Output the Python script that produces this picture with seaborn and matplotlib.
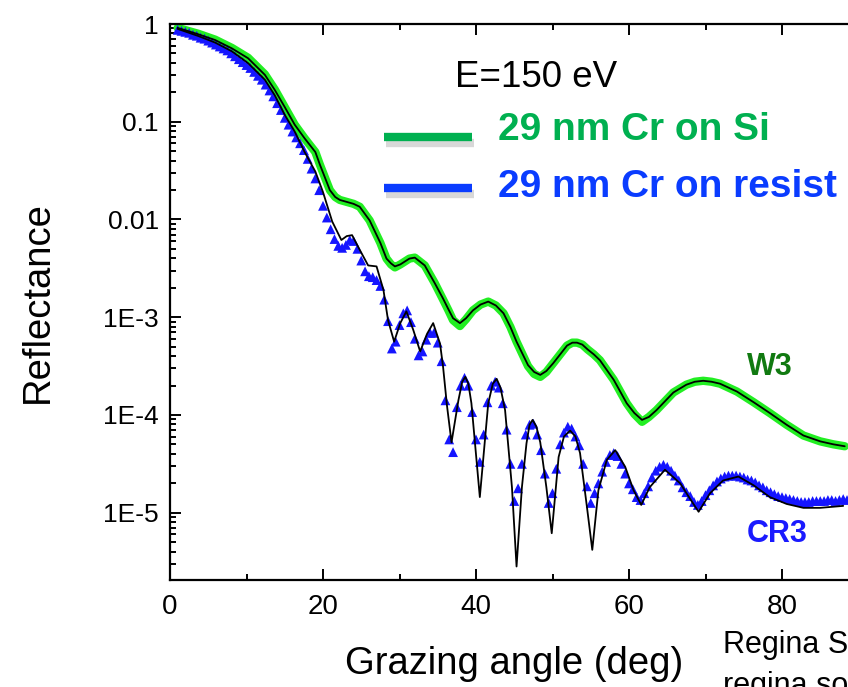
import numpy as np
import pandas as pd
import matplotlib
matplotlib.use("Agg")
import matplotlib.pyplot as plt
import matplotlib.patheffects as pe
from matplotlib.lines import Line2D
from matplotlib.ticker import LogLocator, NullFormatter
import seaborn as sns

# **Data** (reflectance stored as log10 values)

# W3: 29 nm Cr on Si, measured (green) and fit (black)
w3_angle = [1.0, 3.7, 5.9, 8.1, 10.2, 12.4, 13.7, 15.0, 16.3, 17.6,
            19.0, 19.6, 20.3, 20.9, 21.6, 22.2, 23.1, 24.0, 24.8, 26.1,
            27.5, 28.3, 28.9, 29.4, 30.1, 30.7, 31.3, 32.0, 33.3, 34.6,
            35.7, 36.4, 37.0, 37.9, 38.7, 39.6, 40.6, 41.6, 42.6, 43.6,
            44.5, 45.3, 46.8, 47.6, 48.4, 49.2, 50.1, 51.9, 52.6, 53.2,
            53.9, 54.6, 55.4, 56.2, 58.0, 59.7, 60.7, 61.7, 62.6, 63.6,
            64.7, 65.8, 67.5, 68.6, 69.7, 70.8, 71.9, 74.1, 76.3, 78.4,
            80.6, 82.8, 85.0, 86.7, 88.2]
w3_fit = [-0.04, -0.105, -0.164, -0.25, -0.35, -0.52, -0.675, -0.85, -1.03, -1.17,
          -1.31, -1.44, -1.58, -1.70, -1.77, -1.80, -1.82, -1.84, -1.87, -2.01,
          -2.24, -2.40, -2.45, -2.48, -2.46, -2.43, -2.40, -2.39, -2.47, -2.65,
          -2.81, -2.92, -3.01, -3.06, -3.01, -2.93, -2.87, -2.84, -2.88, -2.96,
          -3.10, -3.25, -3.49, -3.56, -3.59, -3.55, -3.47, -3.29, -3.26, -3.26,
          -3.28, -3.33, -3.38, -3.44, -3.64, -3.88, -3.98, -4.05, -4.02, -3.95,
          -3.86, -3.77, -3.69, -3.66, -3.65, -3.66, -3.68, -3.76, -3.87, -3.98,
          -4.10, -4.21, -4.27, -4.30, -4.32]
w3_data = [-0.04, -0.10, -0.16, -0.245, -0.345, -0.515, -0.67, -0.85, -1.03, -1.17,
           -1.31, -1.44, -1.58, -1.70, -1.77, -1.80, -1.82, -1.84, -1.87, -2.01,
           -2.24, -2.40, -2.46, -2.49, -2.46, -2.43, -2.40, -2.39, -2.47, -2.65,
           -2.82, -2.93, -3.03, -3.09, -3.02, -2.93, -2.87, -2.84, -2.88, -2.96,
           -3.10, -3.25, -3.50, -3.58, -3.61, -3.56, -3.47, -3.29, -3.26, -3.26,
           -3.28, -3.33, -3.38, -3.44, -3.64, -3.88, -3.99, -4.07, -4.02, -3.95,
           -3.86, -3.77, -3.69, -3.66, -3.65, -3.66, -3.68, -3.76, -3.87, -3.98,
           -4.10, -4.21, -4.27, -4.30, -4.32]

# CR3: 29 nm Cr on resist, fit (black)
cr3_fit_angle = [1.0, 3.7, 5.9, 8.1, 10.2, 12.4, 13.7, 15.0, 16.3, 17.6,
                 19.0, 20.0, 21.2, 22.4, 23.1, 23.8, 24.8, 25.9, 27.0, 27.9,
                 28.5, 29.3, 30.1, 30.9, 31.8, 32.7, 33.6, 34.4, 35.3, 35.7,
                 36.2, 36.8, 37.7, 38.2, 38.6, 39.0, 39.4, 40.5, 41.6, 42.2,
                 42.7, 43.2, 43.8, 44.7, 45.3, 46.0, 46.6, 47.0, 47.4, 47.9,
                 48.4, 49.2, 49.9, 50.8, 51.5, 52.3, 53.0, 53.6, 54.5, 55.2,
                 56.0, 57.1, 58.2, 59.5, 60.6, 61.6, 62.7, 64.7, 66.7, 68.0,
                 69.1, 70.6, 72.3, 74.3, 76.3, 78.4, 80.6, 82.8, 85.0, 88.0]
cr3_fit = [-0.05, -0.123, -0.19, -0.28, -0.40, -0.57, -0.73, -0.93, -1.10, -1.31,
           -1.51, -1.72, -2.02, -2.21, -2.17, -2.16, -2.31, -2.47, -2.48, -2.72,
           -3.03, -3.25, -3.06, -2.94, -3.13, -3.35, -3.17, -3.06, -3.27, -3.51,
           -3.90, -4.28, -3.85, -3.66, -3.61, -3.68, -3.88, -4.84, -3.88, -3.68,
           -3.63, -3.72, -3.95, -4.74, -5.55, -4.74, -4.29, -4.10, -4.05, -4.12,
           -4.28, -4.74, -5.21, -4.43, -4.22, -4.16, -4.22, -4.39, -4.94, -5.38,
           -4.77, -4.46, -4.36, -4.53, -4.77, -4.92, -4.74, -4.56, -4.70, -4.86,
           -4.99, -4.80, -4.67, -4.63, -4.72, -4.84, -4.91, -4.95, -4.95, -4.93]

# CR3 measured points (blue triangles), scanned every 0.5 deg from 1.0 to 88.5
cr3_angle = np.arange(1.0, 88.6, 0.5)
cr3_data = [
    -0.06, -0.07, -0.08, -0.09, -0.11, -0.12, -0.14, -0.15, -0.17, -0.19,   # 1.0 - 5.5
    -0.21, -0.23, -0.25, -0.27, -0.30, -0.33, -0.36, -0.39, -0.42, -0.45,   # 6.0 - 10.5
    -0.49, -0.53, -0.57, -0.62, -0.68, -0.74, -0.81, -0.88, -0.96, -1.03,   # 11.0 - 15.5
    -1.10, -1.16, -1.22, -1.29, -1.38, -1.48, -1.58, -1.70, -1.86, -1.98,   # 16.0 - 20.5
    -2.10, -2.20, -2.27, -2.29, -2.26, -2.21, -2.22, -2.30, -2.42, -2.53,   # 21.0 - 25.5
    -2.58, -2.59, -2.62, -2.68, -2.82, -3.04, -3.32, -3.25, -3.08, -2.96,   # 26.0 - 30.5
    -2.93, -3.05, -3.22, -3.39, -3.35, -3.23, -3.16, -3.16, -3.26, -3.45,   # 31.0 - 35.5
    -3.85, -4.25, -4.38, -3.92, -3.70, -3.62, -3.70, -3.97, -4.25, -4.48,   # 36.0 - 40.5
    -4.20, -3.87, -3.70, -3.66, -3.72, -3.88, -4.15, -4.50, -4.88, -4.75,   # 41.0 - 45.5
    -4.50, -4.20, -4.10, -4.09, -4.20, -4.36, -4.60, -4.90, -4.80, -4.55,   # 46.0 - 50.5
    -4.30, -4.18, -4.12, -4.14, -4.22, -4.31, -4.50, -4.73, -4.90, -4.80,   # 51.0 - 55.5
    -4.70, -4.58, -4.48, -4.41, -4.39, -4.42, -4.50, -4.60, -4.70, -4.76,   # 56.0 - 60.5
    -4.84, -4.87, -4.80, -4.73, -4.64, -4.57, -4.53, -4.51, -4.53, -4.57,   # 61.0 - 65.5
    -4.62, -4.67, -4.74, -4.79, -4.83, -4.89, -4.92, -4.88, -4.82, -4.77,   # 66.0 - 70.5
    -4.72, -4.68, -4.65, -4.63, -4.62, -4.62, -4.62, -4.63, -4.64, -4.66,   # 71.0 - 75.5
    -4.67, -4.69, -4.72, -4.74, -4.77, -4.79, -4.81, -4.83, -4.84, -4.85,   # 76.0 - 80.5
    -4.86, -4.87, -4.88, -4.89, -4.89, -4.89, -4.88, -4.88, -4.88, -4.88,   # 81.0 - 85.5
    -4.87, -4.87, -4.88, -4.87, -4.86, -4.87,                               # 86.0 - 88.5
]

ytick_values = [1, 0.1, 0.01, 1e-3, 1e-4, 1e-5]
ytick_labels = ["1", "0.1", "0.01", "1E-3", "1E-4", "1E-5"]
xtick_values = [0, 20, 40, 60, 80]

w3_df = pd.DataFrame({"angle": w3_angle,
                      "data": 10 ** np.array(w3_data),
                      "fit": 10 ** np.array(w3_fit)})
cr3_fit_df = pd.DataFrame({"angle": cr3_fit_angle, "fit": 10 ** np.array(cr3_fit)})
cr3_df = pd.DataFrame({"angle": cr3_angle, "data": 10 ** np.array(cr3_data)})

# **Plot**
sns.set_style("ticks")
plt.rcParams["font.family"] = ["Liberation Sans", "DejaVu Sans"]
plt.rcParams.update({"text.color": "black", "axes.labelcolor": "black",
                     "xtick.color": "black", "ytick.color": "black",
                     "axes.edgecolor": "black"})

fig = plt.figure(figsize=(8.48, 6.87), dpi=100)
W, H = 848, 687
# right spine sits just past the figure edge, as in the original screenshot
ax = fig.add_axes([170 / W, 1 - 580 / H, (858.5 - 170) / W, (580 - 24) / H])

sns.lineplot(data=w3_df, x="angle", y="data", color="#22ee22", linewidth=6,
             estimator=None, ax=ax, zorder=2)
sns.lineplot(data=w3_df, x="angle", y="fit", color="black", linewidth=1.3,
             estimator=None, ax=ax, zorder=4)
sns.scatterplot(data=cr3_df, x="angle", y="data", marker="^", s=50,
                color="#1515ff", edgecolor="none", ax=ax, zorder=3)
sns.lineplot(data=cr3_fit_df, x="angle", y="fit", color="black", linewidth=1.3,
             estimator=None, ax=ax, zorder=4)

ax.set_yscale("log")
ax.set_xlim(0, 90)
ax.set_ylim(2.05e-6, 1)
ax.set_yticks(ytick_values)
ax.set_yticklabels(ytick_labels)
ax.yaxis.set_minor_locator(LogLocator(base=10, subs=np.arange(2, 10)))
ax.yaxis.set_minor_formatter(NullFormatter())
ax.set_xticks(xtick_values)
ax.set_xticks([10, 30, 50, 70, 90], minor=True)

ax.tick_params(axis="both", which="both", direction="in", top=True, right=True,
               width=1.4, color="black", labelcolor="black")
ax.tick_params(axis="both", which="major", length=8)
ax.tick_params(axis="both", which="minor", length=4.5)
ax.tick_params(axis="y", which="major", labelsize=19, pad=8)
ax.tick_params(axis="x", which="major", labelsize=20, pad=10)
for sp in ax.spines.values():
    sp.set_linewidth(1.6)
    sp.set_color("black")

ax.set_xlabel("Grazing angle (deg)", fontsize=27.5, labelpad=19)
ax.set_ylabel("Reflectance", fontsize=27.5, labelpad=34)

# annotations
fig.text(455 / W, 1 - 87 / H, "E=150 eV", fontsize=26.5, color="black")
fig.text(498 / W, 1 - 140 / H, "29 nm Cr on Si", fontsize=28,
         fontweight="bold", color="#00b050")
fig.text(498 / W, 1 - 197 / H, "29 nm Cr on resist", fontsize=28,
         fontweight="bold", color="#0a3cff")
shadow = [pe.SimpleLineShadow(offset=(1.5, -4), shadow_color="gray", alpha=0.3),
          pe.Normal()]
for ypx, col in [(137, "#00b050"), (188, "#0a3cff")]:
    fig.add_artist(Line2D([384 / W, 472 / W], [1 - ypx / H, 1 - ypx / H],
                          transform=fig.transFigure, color=col, linewidth=6,
                          solid_capstyle="butt", path_effects=shadow))

fig.text(747 / W, 1 - 375 / H, "W3", fontsize=22, fontweight="bold", color="#117a11")
fig.text(747 / W, 1 - 542 / H, "CR3", fontsize=22, fontweight="bold", color="#1a1aff")

# author credit, cut off by the right and bottom edges in the original
fig.text(723 / W, 1 - 653 / H, "Regina Soufli", fontsize=22, color="black")
fig.text(723 / W, 1 - 694 / H, "regina soufli", fontsize=22, color="black")

fig.savefig("out.png", dpi=100)
